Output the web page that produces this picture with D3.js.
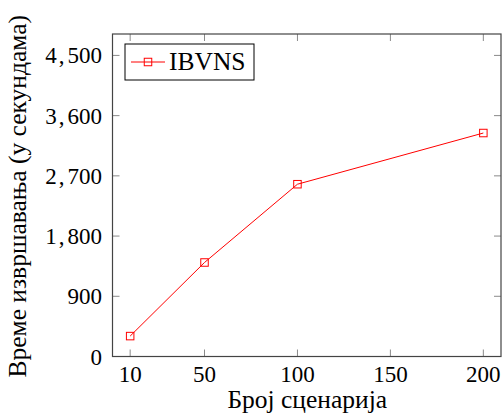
<!DOCTYPE html>
<html><head><meta charset="utf-8">
<script src="https://cdn.jsdelivr.net/npm/d3@7"></script>
<style>body{margin:0;background:#fff;}</style>
</head><body>
<svg id="c" width="502" height="417"></svg>
<script>
const scenarios = [10, 50, 100, 200];
const times = [305, 1405, 2575, 3340];
const xTicks = [10, 50, 100, 150, 200];
const yTicks = [0, 900, 1800, 2700, 3600, 4500];
const seriesName = "IBVNS";
const xTitle = "Број сценарија";
const yTitle = "Време извршавања (у секундама)";

const FF = "Liberation Serif";
const svg = d3.select("#c");
const L = 112.5, R = 501, T = 34, B = 356.5;
const x = d3.scaleLinear().domain([0.5, 209.5]).range([L, R]);
const y = d3.scaleLinear().domain([0, 4820]).range([B, T]);
const fs = 23, fsT = 25.5, tickLen = 7, tickCol = "#8a8a8a", frameCol = "#444";

const g = svg.append("g");
xTicks.forEach(v => {
  g.append("line").attr("x1", x(v)).attr("x2", x(v)).attr("y1", B).attr("y2", B - tickLen).attr("stroke", tickCol).attr("stroke-width", 1);
  g.append("line").attr("x1", x(v)).attr("x2", x(v)).attr("y1", T).attr("y2", T + tickLen).attr("stroke", tickCol).attr("stroke-width", 1);
  g.append("text").attr("x", x(v)).attr("y", 382).attr("text-anchor", "middle").attr("font-family", FF).attr("font-size", fs).text(v);
});
const fmt = d3.format(",");
yTicks.forEach(v => {
  g.append("line").attr("x1", L).attr("x2", L + tickLen).attr("y1", y(v)).attr("y2", y(v)).attr("stroke", tickCol).attr("stroke-width", 1);
  g.append("line").attr("x1", R).attr("x2", R - tickLen).attr("y1", y(v)).attr("y2", y(v)).attr("stroke", tickCol).attr("stroke-width", 1);
  const s = fmt(v);
  const t = g.append("text").attr("x", 102).attr("y", y(v) + 8).attr("text-anchor", "end").attr("font-family", FF).attr("font-size", fs);
  if (s.includes(",")) {
    const parts = s.split(",");
    t.append("tspan").text(parts[0]);
    t.append("tspan").attr("dx", 2).text(",");
    t.append("tspan").attr("dx", 3).text(parts[1]);
  } else t.text(s);
});

svg.append("rect").attr("x", L).attr("y", T).attr("width", R - L).attr("height", B - T)
  .attr("fill", "none").attr("stroke", frameCol).attr("stroke-width", 1.2);

const line = d3.line().x((d, i) => x(scenarios[i])).y(d => y(d));
svg.append("path").datum(times).attr("d", line).attr("fill", "none").attr("stroke", "#ff0000").attr("stroke-width", 1);
const ms = 7.5;
svg.selectAll(".m").data(times).enter().append("rect")
  .attr("x", (d, i) => x(scenarios[i]) - ms / 2).attr("y", d => y(d) - ms / 2)
  .attr("width", ms).attr("height", ms).attr("fill", "none").attr("stroke", "#ff0000").attr("stroke-width", 1);

const lg = svg.append("g");
lg.append("rect").attr("x", 125).attr("y", 44).attr("width", 129).attr("height", 36).attr("fill", "#fff").attr("stroke", "#000").attr("stroke-width", 1);
lg.append("line").attr("x1", 131).attr("x2", 165).attr("y1", 62).attr("y2", 62).attr("stroke", "#ff0000");
lg.append("rect").attr("x", 148 - ms / 2).attr("y", 62 - ms / 2).attr("width", ms).attr("height", ms).attr("fill", "none").attr("stroke", "#ff0000");
lg.append("text").attr("x", 169).attr("y", 70).attr("font-family", FF).attr("font-size", 25.5).text(seriesName);

svg.append("text").attr("x", (L + R) / 2 + 0.5).attr("y", 408).attr("text-anchor", "middle").attr("font-family", FF).attr("font-size", fsT).text(xTitle);
svg.append("text").attr("transform", `translate(26,${(T + B) / 2 + 1}) rotate(-90)`).attr("text-anchor", "middle").attr("font-family", FF).attr("font-size", fsT).text(yTitle);
</script>
</body></html>
